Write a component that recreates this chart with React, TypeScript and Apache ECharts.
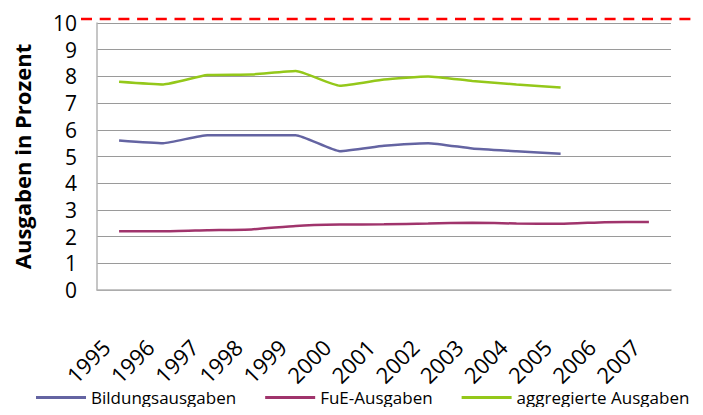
import React, { useEffect, useRef } from "react";
import * as echarts from "echarts";

const years = ["1995","1996","1997","1998","1999","2000","2001","2002","2003","2004","2005","2006","2007"];
const bildung = [5.6, 5.5, 5.8, 5.8, 5.8, 5.2, 5.4, 5.5, 5.3, 5.2, 5.1, null, null];
const fue = [2.2, 2.2, 2.24, 2.27, 2.4, 2.45, 2.46, 2.49, 2.52, 2.49, 2.48, 2.54, 2.55];
const aggregiert = [7.8, 7.7, 8.05, 8.07, 8.2, 7.65, 7.88, 8.0, 7.83, 7.7, 7.58, null, null];
const yTicks = [0, 10, 1];

const FONT = "'Open Sans', sans-serif";

export default function App() {
  const ref = useRef<HTMLDivElement>(null);
  useEffect(() => {
    if (!ref.current) return;
    const chart = echarts.init(ref.current, undefined, { renderer: "svg" });
    const mk = (name: string, data: (number | null)[], color: string) => ({
      name,
      type: "line",
      data,
      smooth: 0.15,
      showSymbol: false,
      symbol: "none",
      lineStyle: { color, width: 2.5 },
      itemStyle: { color },
    });
    chart.setOption({
      animation: false,
      textStyle: { fontFamily: FONT },
      grid: { left: 97, right: 32, top: 23, bottom: 125 },
      xAxis: {
        type: "category",
        data: years,
        boundaryGap: true,
        axisLine: { lineStyle: { color: "#b3b3b3", width: 1.5 } },
        axisTick: { show: false },
        axisLabel: {
          rotate: 45,
          align: "right",
          verticalAlign: "top",
          color: "#000",
          fontSize: 22,
          fontFamily: FONT,
          margin: 24,
          padding: [0, 30, 0, 0],
          interval: 0,
        },
      },
      yAxis: {
        type: "value",
        min: yTicks[0],
        max: yTicks[1],
        interval: yTicks[2],
        name: "Ausgaben in Prozent",
        nameLocation: "middle",
        nameGap: 64,
        nameTextStyle: { fontSize: 22, fontWeight: "bold", color: "#000", fontFamily: FONT },
        axisLine: { show: true, lineStyle: { color: "#b3b3b3", width: 1.5 } },
        axisTick: { show: false },
        splitLine: { lineStyle: { color: "#9a9a9a", width: 1 } },
        axisLabel: { color: "#000", fontSize: 21, fontFamily: FONT, margin: 20 },
      },
      legend: {
        top: 384,
        left: 31,
        itemWidth: 50,
        itemHeight: 3,
        itemGap: 29,
        icon: "rect",
        textStyle: { fontSize: 17, color: "#000", fontFamily: FONT },
        data: ["Bildungsausgaben", "FuE-Ausgaben", "aggregierte Ausgaben"],
      },
      graphic: [
        {
          type: "line",
          shape: { x1: 81, y1: 19, x2: 703, y2: 19 },
          style: { stroke: "#ff0000", lineWidth: 2.5, lineDash: [11, 7.7] },
          silent: true,
        },
      ],
      series: [
        mk("Bildungsausgaben", bildung, "#6464a2"),
        mk("FuE-Ausgaben", fue, "#a0346c"),
        mk("aggregierte Ausgaben", aggregiert, "#94c81a"),
      ],
    });
    return () => chart.dispose();
  }, []);
  return <div ref={ref} style={{ width: 703, height: 415, margin: -8 }} />;
}
